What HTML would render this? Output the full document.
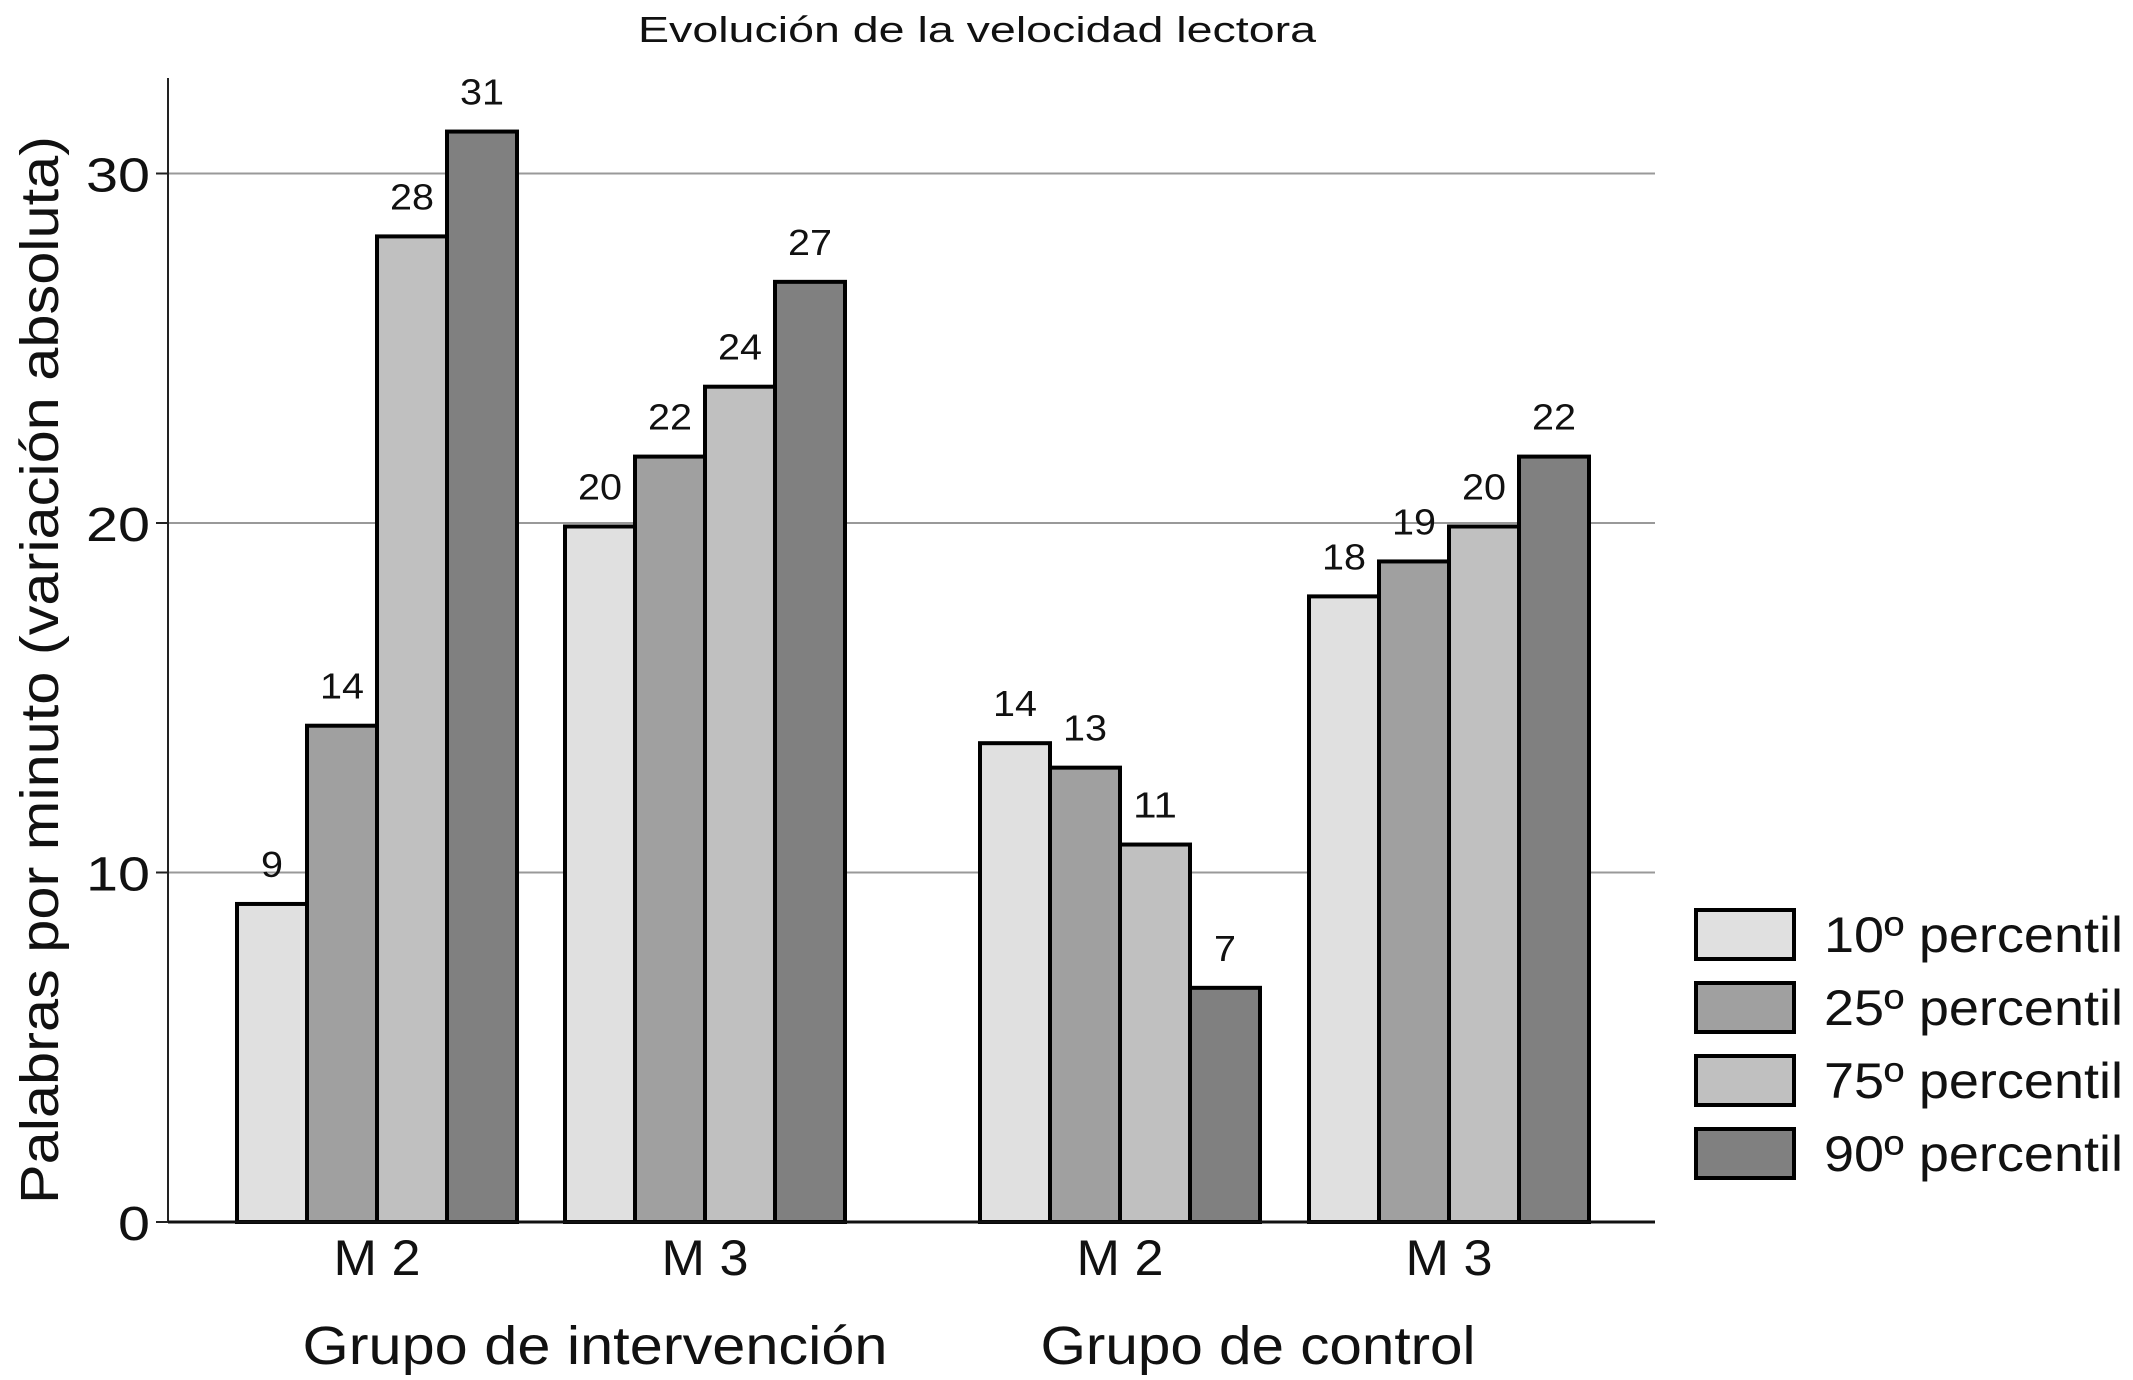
<!DOCTYPE html>
<html><head><meta charset="utf-8"><style>
html,body{margin:0;padding:0;background:#fff}
svg{display:block}
text{font-family:"Liberation Sans",sans-serif;fill:#111}
</style></head><body>
<svg id="chart" width="2133" height="1380" viewBox="0 0 2133 1380" xmlns="http://www.w3.org/2000/svg">
<text x="977" y="42" font-size="36" text-anchor="middle" textLength="678" lengthAdjust="spacingAndGlyphs">Evolución de la velocidad lectora</text>
<text transform="translate(58,670) rotate(-90)" font-size="54" text-anchor="middle" textLength="1068" lengthAdjust="spacingAndGlyphs">Palabras por minuto (variación absoluta)</text>
<g id="grid"></g><g id="bars"></g><g id="labels"></g>
<line x1="168" y1="78" x2="168" y2="1222" stroke="#222" stroke-width="2"/>
<line x1="168" y1="1222" x2="1655" y2="1222" stroke="#111" stroke-width="3"/>
<text x="595" y="1364" font-size="54" text-anchor="middle" textLength="585" lengthAdjust="spacingAndGlyphs">Grupo de intervención</text>
<text x="1258" y="1364" font-size="54" text-anchor="middle" textLength="435" lengthAdjust="spacingAndGlyphs">Grupo de control</text>
<g id="legend"></g>
</svg>
<script>
const categories = ["M 2","M 3","M 2","M 3"];
const seriesNames = ["10º percentil","25º percentil","75º percentil","90º percentil"];
const p10 = [9.1, 19.9, 13.7, 17.9];
const p25 = [14.2, 21.9, 13.0, 18.9];
const p75 = [28.2, 23.9, 10.8, 19.9];
const p90 = [31.2, 26.9, 6.7, 21.9];
const valueLabels = [[9,20,14,18],[14,22,13,19],[28,24,11,20],[31,27,7,22]];
const yTicks = [0,10,20,30];

const NS="http://www.w3.org/2000/svg";
const series=[p10,p25,p75,p90];
const colors=["#e0e0e0","#a0a0a0","#c0c0c0","#808080"];
const groupStarts=[237,565,980,1309];
const barW=70;
function y(v){return 1222 - v*34.95;}
function mk(tag,attrs,parent){const e=document.createElementNS(NS,tag);for(const k in attrs)e.setAttribute(k,attrs[k]);parent.appendChild(e);return e;}
const grid=document.getElementById('grid'),bars=document.getElementById('bars'),labels=document.getElementById('labels'),legend=document.getElementById('legend');
yTicks.forEach(t=>{
  if(t>0){const l=mk('line',{x1:168,x2:1655,y1:y(t),y2:y(t),stroke:'#999','stroke-width':2},grid);
  
  }
  const tk=mk('line',{x1:156,x2:168,y1:y(t),y2:y(t),stroke:'#222','stroke-width':2},grid);
  
  
  const s=String(t);
  const tx=mk('text',{x:150,y:y(t)+18,'font-size':48,'text-anchor':'end',textLength:s.length*32,lengthAdjust:'spacingAndGlyphs'},labels);
  tx.textContent=s;
  
  
});
categories.forEach((c,i)=>{
  series.forEach((s,j)=>{
    const x=groupStarts[i]+j*barW;
    const r=mk('rect',{x:x,y:y(s[i]),width:barW,height:1222-y(s[i]),fill:colors[j],stroke:'#000','stroke-width':4},bars);
    
    
    const lab=String(valueLabels[j][i]);
    const t=mk('text',{x:x+barW/2,y:y(s[i])-27,'font-size':36,'text-anchor':'middle',fill:'#333',textLength:lab.length*22,lengthAdjust:'spacingAndGlyphs'},labels);
    t.textContent=lab;
    
    
  });
  const ct=mk('text',{x:groupStarts[i]+2*barW,y:1275,'font-size':50,'text-anchor':'middle',textLength:87,lengthAdjust:'spacingAndGlyphs'},labels);
  ct.textContent=c;
  
  
});
seriesNames.forEach((n,j)=>{
  const yy=910+j*73;
  const r=mk('rect',{x:1696,y:yy,width:98,height:49,fill:colors[j],stroke:'#000','stroke-width':4},legend);
  
  
  const t=mk('text',{x:1824,y:yy+42,'font-size':50,textLength:299,lengthAdjust:'spacingAndGlyphs'},legend);
  t.textContent=n;
  
  
});
</script>
</body></html>
